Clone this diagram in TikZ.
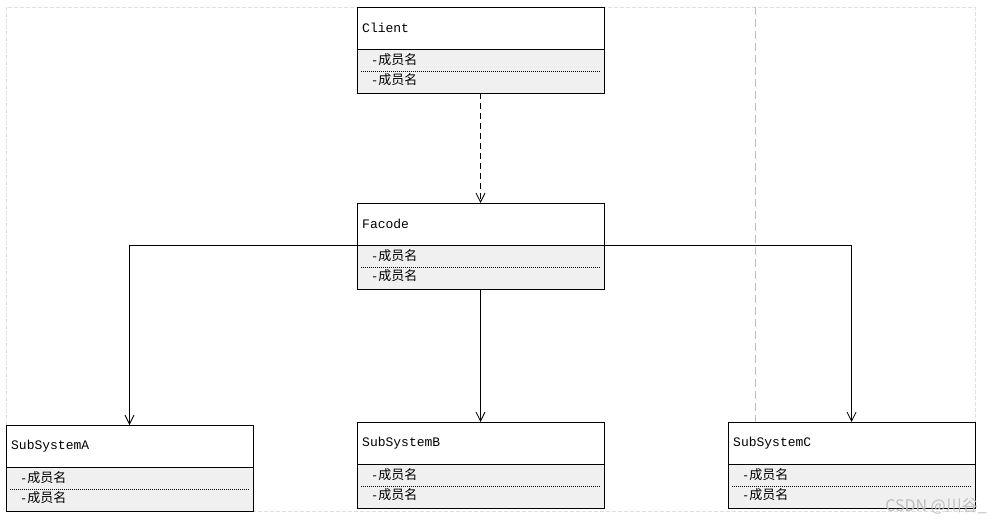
\documentclass[tikz,border=0pt]{standalone}
\usepackage{fontspec}
\setmonofont{Liberation Mono}
\newfontfamily\cjk{Noto Sans CJK SC}
\usetikzlibrary{arrows.meta}

\begin{document}
\begin{tikzpicture}[x=1pt,y=-1pt]

  \definecolor{attrcol}{rgb}{0.94,0.94,0.94}
  \definecolor{framecol}{rgb}{0.87,0.87,0.87}
  \definecolor{guidecol}{rgb}{0.74,0.74,0.74}

  \tikzset{
      clsbox/.style={draw,line width=1pt,outer sep=0pt,anchor=north west,
        minimum width=247,minimum height=86,inner sep=0pt},
      clstitle/.style={anchor=west,inner sep=0pt,font=\ttfamily\fontsize{13}{15}\selectfont},
      attr/.style={anchor=west,inner sep=0pt,font=\ttfamily\fontsize{12}{14}\selectfont},
      sepline/.style={line width=0.6pt,dash pattern=on 1pt off 1pt},
      assoc/.style={line width=0.8pt,-{Straight Barb[length=9pt,width=9pt]}},
      dep/.style={assoc,dash pattern=on 6pt off 4pt},
    }

  % class box: name, left, top, title
  \newcommand{\umlcls}[4]{%
    \fill[attrcol] (#2,#3+42) rectangle (#2+247,#3+86);
    \node[clsbox] (#1) at (#2,#3) {};
    \coordinate (#1-l) at ([yshift=-42]#1.north west);
    \coordinate (#1-r) at ([yshift=-42]#1.north east);
    \draw[line width=1pt] (#1-l) -- (#1-r);
    \draw[sepline] ([xshift=4,yshift=-64]#1.north west) -- ([xshift=-4,yshift=-64]#1.north east);
    \node[clstitle] (#1-t) at ([xshift=5,yshift=-21]#1.north west) {#4};
    \node[attr] (#1-a) at ([xshift=14,yshift=-53]#1.north west) {-{\cjk\fontsize{13}{14}\selectfont 成员名}};
    \node[attr] (#1-b) at ([xshift=14,yshift=-73]#1.north west) {-{\cjk\fontsize{13}{14}\selectfont 成员名}};
  }

  \useasboundingbox (0,0) rectangle (992,523);

  %% page frame and guide.
  \draw[framecol,line width=0.8pt,dash pattern=on 4pt off 2pt] (6,7) rectangle (975,511);
  \draw[guidecol,line width=0.8pt,dash pattern=on 8pt off 4pt] (755,7) -- (755,422);

  \umlcls{client}{357}{7}{Client}
  \umlcls{facode}{357}{203}{Facode}
  \umlcls{subA}{6}{425}{SubSystemA}
  \umlcls{subB}{357}{422}{SubSystemB}
  \umlcls{subC}{728}{422}{SubSystemC}

  \draw[dep] (client.south) -- (facode.north);

  \draw[assoc] (facode-l) -| (subA.north);
  \draw[assoc] (facode.south) -- (subB.north);
  \draw[assoc] (facode-r) -| (subC.north);

  \node[anchor=east,inner sep=0pt,text=guidecol,font=\cjk\fontsize{16}{16}\selectfont] (mark) at (987,506) {CSDN @川谷\_};

\end{tikzpicture}
\end{document}
